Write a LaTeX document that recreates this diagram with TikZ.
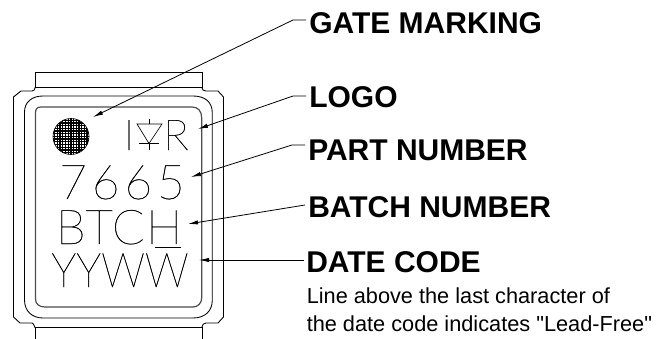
\documentclass[tikz,border=0pt]{standalone}
\usepackage{fontspec}
\setmainfont{Liberation Sans}
\newfontfamily\notefont{Liberation Sans}
\newfontfamily\chipfont[FakeBold=0.5]{Lato Hairline}
\newfontfamily\chipfontA[LetterSpace=10,FakeBold=0.5]{Lato Hairline}
\newfontfamily\chipfontB[LetterSpace=3,FakeBold=0.5]{Lato Hairline}
\usetikzlibrary{arrows.meta}
\definecolor{leadgray}{gray}{0.3}
\tikzset{
  x=0.75pt,y=-0.75pt,
  outline/.style={draw=black,line width=0.65pt},
  innerline/.style={draw=leadgray,line width=0.9pt},
  callout/.style={font=\fontsize{22.5}{22.5}\selectfont\bfseries,anchor=base west,inner sep=0pt},
  notetext/.style={font=\fontsize{16.3}{16.3}\notefont,anchor=base west,inner sep=0pt},
  chip/.style={anchor=base,inner sep=0pt,text depth=0pt},
  leader/.style={draw=black,line width=0.6pt,-{Latex[length=7.5pt,width=3.2pt]}},
}
\begin{document}
\begin{tikzpicture}
\useasboundingbox (0,0) rectangle (662,339);
\draw[outline] (35,339) -- (35,327.5) -- (202,327.5) -- (202,339);
\draw[outline] (35,72) -- (202,72) -- (202,87) -- (35,87) -- cycle;
\draw[outline] (35,87) -- (35,88) to[out=-90,in=0] (32,91) -- (21,91) -- (13.5,97) -- (13.5,317) -- (20,323) -- (32,323) to[out=0,in=-90] (35,327);
\draw[outline] (202,87) -- (202,88) to[out=-90,in=180] (206,91) -- (218,91) -- (223.5,97) -- (223.5,317) -- (218,323) -- (206,323) to[out=180,in=90] (202,327);
\draw[outline] (43,96) -- (193,96) .. controls (205,96) and (212.3,102) .. (212.3,113) -- (212.3,300) .. controls (212.3,311) and (205,318) .. (193,318) -- (43,318) .. controls (32,318) and (24.5,311) .. (24.5,300) -- (24.5,112) .. controls (24.5,102) and (32,96) .. (43,96) -- cycle;
\draw[innerline] (41,107) -- (192,107) .. controls (198,107) and (201.7,111) .. (201.7,118) -- (201.7,298) .. controls (201.7,303) and (198,307) .. (193,307) -- (45,307) .. controls (39,307) and (35.5,304) .. (35.5,299) -- (35.5,113) .. controls (35.5,109) and (37,107) .. (41,107) -- cycle;
\node[draw=black,line width=0.5pt,circle,minimum size=27pt,inner sep=0pt,fill=white,
  path picture={
    \foreach \k in {-19,-16.3,...,20} {
      \draw[black,line width=1pt] (\k,-20) -- (\k,20);
      \draw[black,line width=1pt] (-20,\k) -- (20,\k);
    }
  }] (dot) at (71,136.5) {};
\node[chip,font=\fontsize{36}{36}\chipfontA] (ln1) at (122,199) {7665};
\node[chip,font=\fontsize{36}{36}\chipfontB] (ln2) at (119,244) {BTCH};
\node[chip,font=\fontsize{36}{36}\chipfont] (ln3) at (120,287) {\scalebox{0.91}[1]{YYWW}};
\node[chip,font=\fontsize{32}{32}\chipfont] (lI) at (129,150) {I};
\node[chip,font=\fontsize{32}{32}\chipfont] (lR) at (176,150) {R};
\draw[line width=0.5pt] (137,124) -- (162,124) -- (149,143.5) -- cycle;
\draw[line width=0.5pt] (149,119) -- (149,124) (139,143.5) -- (159,143.5) (149,143.5) -- (149,150);
\draw[line width=0.7pt] (155,247) -- (181,247);
\node[callout] (gate) at (309,33) {GATE MARKING};
\node[callout] (logo) at (309,107) {LOGO};
\node[callout] (part) at (308,161) {PART NUMBER};
\node[callout] (batch) at (308,217) {BATCH NUMBER};
\node[callout] (date) at (306,272) {DATE CODE};
\node[notetext] (n1) at (306.5,303) {Line above the last character of};
\node[notetext] (n2) at (306.5,331) {the date code indicates "Lead-Free"};
\coordinate (gs) at (306,20);
\coordinate (ls) at (306,96);
\coordinate (ps) at (305,145);
\coordinate (bs) at (305,205);
\coordinate (ds) at (304,260);
\coordinate (gk) at (293,20);
\coordinate (lk) at (293,96);
\coordinate (pk) at (292,145);
\coordinate (gt) at (93,117);
\coordinate (lt) at (198,129);
\coordinate (pt) at (191,177);
\coordinate (bt) at (188,224);
\coordinate (dt) at (199,260);
\draw[leader] (gs) -- (gk) -- (gt);
\draw[leader] (ls) -- (lk) -- (lt);
\draw[leader] (ps) -- (pk) -- (pt);
\draw[leader] (bs) -- (bt);
\draw[leader] (ds) -- (dt);
\end{tikzpicture}
\end{document}
